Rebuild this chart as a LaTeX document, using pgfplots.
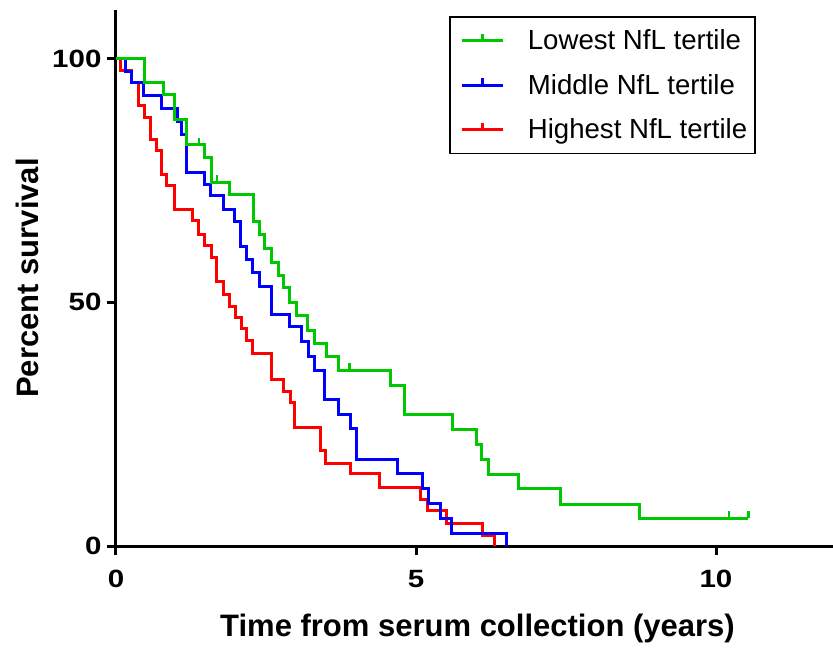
\documentclass[border=0pt]{standalone}
\usepackage{fontspec}
\setmainfont{Liberation Sans}
\newfontfamily\tickfont[FakeStretch=1.18, BoldFeatures={FakeStretch=1.18}]{Liberation Sans}
\usepackage{pgfplots}
\pgfplotsset{compat=1.18}

\definecolor{kmgreen}{RGB}{0,200,0}
\definecolor{kmblue}{RGB}{0,0,255}
\definecolor{kmred}{RGB}{255,0,0}

% censoring tick: a short stroke straight up from the curve
\pgfdeclareplotmark{cens}{%
  \pgfpathmoveto{\pgfpointorigin}%
  \pgfpathlineto{\pgfpoint{0pt}{\pgfplotmarksize}}%
  \pgfusepathqstroke}

\pgfplotsset{
  km/.style={const plot, line width=3pt, line join=miter, no marks},
  kmlegend/.style={legend image code/.code={%
      \draw[##1] (0pt,0pt) -- (41pt,0pt);
      \draw[##1] (20.5pt,0pt) -- (20.5pt,7pt);
      \path[draw=none] (-6pt,0pt) -- (64pt,0pt);}},
}

\begin{document}
\begin{tikzpicture}
\begin{axis}[
  scale only axis,
  width=717pt, height=536pt,
  xmin=0, xmax=11.95, ymin=0, ymax=110,
  axis lines=left,
  axis line style={-, line width=3pt, black},
  xtick={0,5,10}, ytick={0,50,100},
  minor tick num=0,
  tick style={line width=3pt, black},
  tick align=outside,
  major tick length=9pt,
  /pgf/number format/assume math mode=true,
  tick label style={font=\tickfont\bfseries\fontsize{25}{25}\selectfont},
  xticklabel style={yshift=-12pt},
  yticklabel style={xshift=-2pt},
  xlabel={Time from serum collection (years)},
  ylabel={Percent survival},
  label style={font=\bfseries\fontsize{31}{31}\selectfont},
  xlabel style={at={(axis description cs:0.5,0)}, anchor=base, yshift=-90.5pt, xshift=3pt},
  ylabel style={at={(axis description cs:0,0.5)}, anchor=base, yshift=77pt},
  legend style={
    at={(0.8926,0.9888)}, anchor=north east,
    draw=black, line width=1.5pt,
    font=\fontsize{27.6}{33}\selectfont,
    row sep=19pt, inner xsep=6pt, inner ysep=11pt,
    legend cell align=left,
  },
  reverse legend,
]

% Highest NfL tertile
\addplot[km, kmred, kmlegend] coordinates {
  (0,100) (0.07,97.6) (0.26,95.2) (0.37,90.4) (0.47,88.0) (0.57,83.5)
  (0.68,81.1) (0.76,76.3) (0.85,73.9) (0.97,69.0) (1.28,66.7) (1.37,64.0)
  (1.48,61.6) (1.6,59.2) (1.68,54.2) (1.79,51.6) (1.89,49.2) (2.0,46.8)
  (2.09,44.6) (2.18,42.1) (2.28,39.6) (2.59,34.2) (2.79,31.8) (2.91,29.4)
  (2.98,24.4) (3.4,19.6) (3.49,17.0) (3.9,14.8) (4.39,12.0) (5.08,9.5)
  (5.19,7.2) (5.5,4.7) (6.1,2.1) (6.3,0)
};
\addlegendentry{Highest NfL tertile}

% Middle NfL tertile
\addplot[km, kmblue, kmlegend] coordinates {
  (0,100) (0.16,97.4) (0.26,95.2) (0.46,92.5) (0.76,89.7) (1.03,87.1)
  (1.1,84.4) (1.18,76.7) (1.48,74.1) (1.58,71.9) (1.79,69.1) (1.98,66.6)
  (2.07,61.4) (2.18,58.7) (2.28,56.1) (2.4,53.3) (2.59,47.6) (2.9,45.0)
  (3.09,42.0) (3.2,38.9) (3.3,36.0) (3.48,30.0) (3.7,27.0) (3.91,24.1)
  (4.01,17.7) (4.69,14.9) (5.1,11.8) (5.2,8.8) (5.4,5.7) (5.59,2.6) (6.5,0)
};
\addlegendentry{Middle NfL tertile}

% Lowest NfL tertile
\addplot[km, kmgreen, kmlegend] coordinates {
  (0,100) (0.48,95.2) (0.79,92.6) (0.98,87.5) (1.18,82.3) (1.48,79.8)
  (1.59,74.6) (1.89,72.2) (2.29,66.6) (2.4,63.9) (2.48,61.0) (2.59,58.2)
  (2.71,55.6) (2.79,53.0) (2.9,49.9) (3.01,47.3) (3.19,44.3) (3.31,41.6)
  (3.5,38.8) (3.71,36.1) (4.58,32.9) (4.8,27.0) (5.6,23.9) (6.0,20.8)
  (6.09,17.7) (6.2,14.7) (6.71,11.8) (7.4,8.6) (8.72,5.7) (10.54,5.7)
};
\addlegendentry{Lowest NfL tertile}

% censored observations
\addplot[only marks, mark=cens, mark size=7pt, kmgreen, line width=2.5pt, forget plot]
  coordinates {(1.38,82.3) (1.68,74.6) (3.89,36.1) (10.22,5.7) (10.54,5.7)};

\end{axis}
\pgfresetboundingbox
\path ([shift={(-116pt,-103pt)}]current axis.south west)
  rectangle ([shift={(0pt,10pt)}]current axis.north east);
\end{tikzpicture}
\end{document}
